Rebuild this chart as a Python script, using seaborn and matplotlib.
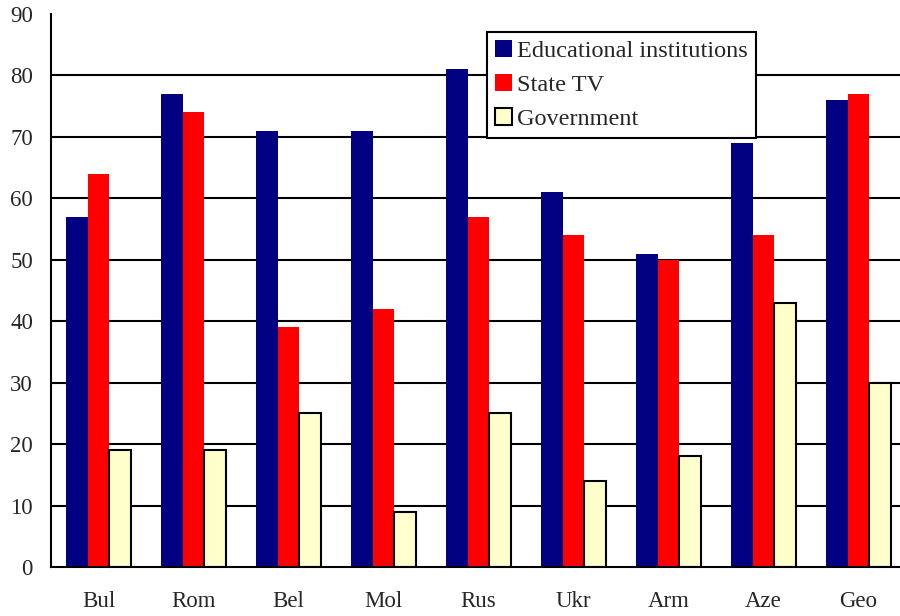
import pandas as pd
import matplotlib
matplotlib.use('Agg')
import matplotlib.pyplot as plt
import seaborn as sns

# Data
countries = ['Bul', 'Rom', 'Bel', 'Mol', 'Rus', 'Ukr', 'Arm', 'Aze', 'Geo']
educational = [57, 77, 71, 71, 81, 61, 51, 69, 76]
state_tv = [64, 74, 39, 42, 57, 54, 50, 54, 77]
government = [19, 19, 25, 9, 25, 14, 18, 43, 30]
series_names = ['Educational institutions', 'State TV', 'Government']
colors = ['#000080', '#FF0000', '#FFFFCC']
y_ticks = list(range(0, 91, 10))

# Long format for seaborn
df = pd.DataFrame({
    'country': countries * 3,
    'value': educational + state_tv + government,
    'series': [s for s in series_names for _ in countries],
})

sns.set_style('white')
plt.rcParams['font.family'] = ['Liberation Serif', 'DejaVu Serif']
fs = 16.5

fig = plt.figure(figsize=(9, 6.16), dpi=100)
ax = fig.add_axes([51 / 900, 49 / 616, 855 / 900, 553 / 616])

sns.barplot(data=df, x='country', y='value', hue='series', order=countries,
            hue_order=series_names, palette=colors, saturation=1,
            width=0.68, gap=0, ax=ax, legend=True)

# black outline only on the Government bars
for patch in ax.containers[2]:
    patch.set_edgecolor('black')
    patch.set_linewidth(1.5)
for cont in ax.containers[:2]:
    for patch in cont:
        patch.set_linewidth(0)

ax.set_xlim(-0.5, 8.5)
ax.set_ylim(0, 90)
ax.set_yticks(y_ticks)
ax.set_xlabel('')
ax.set_ylabel('')

# gridlines at every 10, except at the top
for v in y_ticks[1:-1]:
    ax.axhline(v, color='black', linewidth=1.5, zorder=0)

# x ticks between categories, labels centred without a tick
ax.set_xticks([i - 0.5 for i in range(len(countries) + 1)], minor=True)
ax.tick_params(axis='x', which='minor', length=6, width=1.5, direction='out', color='black')
ax.tick_params(axis='x', which='major', length=0, pad=17, labelsize=fs)
ax.tick_params(axis='y', length=6, width=1.5, direction='out', color='black', pad=7, labelsize=fs)

for side in ['top', 'right']:
    ax.spines[side].set_visible(False)
for side in ['left', 'bottom']:
    ax.spines[side].set_color('black')
    ax.spines[side].set_linewidth(1.5)

leg = ax.legend(loc='upper left', bbox_to_anchor=(0.51, 0.967), frameon=True,
                fancybox=False, edgecolor='black', fontsize=17.5,
                handlelength=0.7, handleheight=0.7, handletextpad=0.2,
                labelspacing=0.48, borderpad=0.33, borderaxespad=0)
leg.get_frame().set_linewidth(1.5)
leg.get_frame().set_alpha(1)
for h in leg.legend_handles:
    h.set_edgecolor('black')
    h.set_linewidth(1.5)
leg.legend_handles[0].set_linewidth(0)
leg.legend_handles[1].set_linewidth(0)

plt.savefig('out.png', dpi=100)
